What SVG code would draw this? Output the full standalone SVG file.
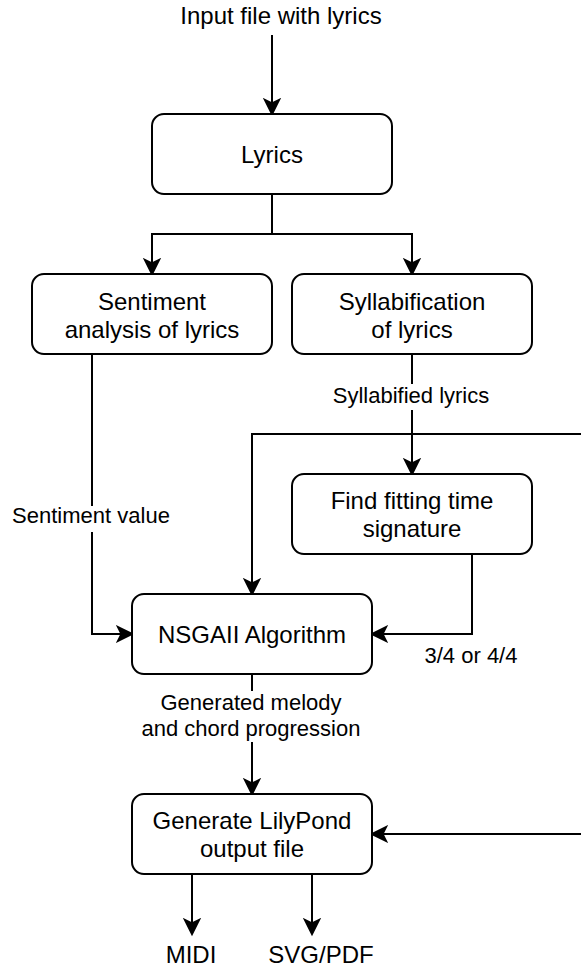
<svg xmlns="http://www.w3.org/2000/svg" width="581" height="972" viewBox="0 0 581 972">
<style>
.box{fill:#fff;stroke:#000;stroke-width:2}
.ln{fill:none;stroke:#000;stroke-width:2;marker-end:url(#arr)}
.pl{fill:none;stroke:#000;stroke-width:2}
.t{font-family:"Liberation Sans",Arial,Helvetica,sans-serif;font-size:24px;fill:#000;text-anchor:middle}
.l{font-family:"Liberation Sans",Arial,Helvetica,sans-serif;font-size:22px;fill:#000;text-anchor:middle}
.bg{fill:#fff}
</style>
<defs>
<marker id="arr" markerUnits="userSpaceOnUse" markerWidth="20" markerHeight="20" viewBox="0 0 20 20" refX="16" refY="10" orient="auto">
<path d="M16,10 L2,3 L5.5,10 L2,17 Z" fill="#000" stroke="#000" stroke-width="2" stroke-linejoin="miter"/>
</marker>
</defs>
<rect width="581" height="972" fill="#fff"/>
<g id="connectors">
<path class="ln" d="M272,35 V114"/>
<path class="ln" d="M272,194 V234 H152 V274"/>
<path class="ln" d="M272,234 H412 V274"/>
<path class="ln" d="M412,354 V474"/>
<path class="ln" d="M92,354 V634 H132"/>
<path class="ln" d="M472,554 V634 H372"/>
<path class="ln" d="M582,434 H252 V594"/>
<path class="ln" d="M252,674 V794"/>
<path class="ln" d="M582,834 H372"/>
<path class="ln" d="M192,874 V934"/>
<path class="ln" d="M312,874 V934"/>
</g>
<g id="edge-labels">
<rect class="bg" x="331" y="384" width="162" height="26"/>
<text class="l" x="411" y="403">Syllabified lyrics</text>
<rect class="bg" x="12" y="506" width="160" height="26"/>
<text class="l" x="91" y="523">Sentiment value</text>
<text class="l" x="471" y="663">3/4 or 4/4</text>
<rect class="bg" x="140" y="691" width="222" height="51"/>
<text class="l" x="251" y="710">Generated melody</text>
<text class="l" x="251" y="736">and chord progression</text>
</g>
<g id="input">
<text class="t" x="281" y="24">Input file with lyrics</text>
</g>
<g id="lyrics">
<rect class="box" x="152" y="114" width="240" height="80" rx="12" ry="12"/>
<text class="t" x="272" y="163">Lyrics</text>
</g>
<g id="sentiment">
<rect class="box" x="32" y="274" width="240" height="80" rx="12" ry="12"/>
<text class="t" x="152" y="309.5">Sentiment</text>
<text class="t" x="152" y="337.5">analysis of lyrics</text>
</g>
<g id="syllabification">
<rect class="box" x="292" y="274" width="240" height="80" rx="12" ry="12"/>
<text class="t" x="412" y="309.5">Syllabification</text>
<text class="t" x="412" y="337.5">of lyrics</text>
</g>
<g id="timesig">
<rect class="box" x="292" y="474" width="240" height="80" rx="12" ry="12"/>
<text class="t" x="412" y="509">Find fitting time</text>
<text class="t" x="412" y="537">signature</text>
</g>
<g id="nsgaii">
<rect class="box" x="132" y="594" width="240" height="80" rx="12" ry="12"/>
<text class="t" x="252" y="643">NSGAII Algorithm</text>
</g>
<g id="lilypond">
<rect class="box" x="132" y="794" width="240" height="80" rx="12" ry="12"/>
<text class="t" x="252" y="829">Generate LilyPond</text>
<text class="t" x="252" y="857">output file</text>
</g>
<g id="midi">
<text class="t" x="191" y="963">MIDI</text>
</g>
<g id="svgpdf">
<text class="t" x="321" y="963">SVG/PDF</text>
</g>
</svg>
